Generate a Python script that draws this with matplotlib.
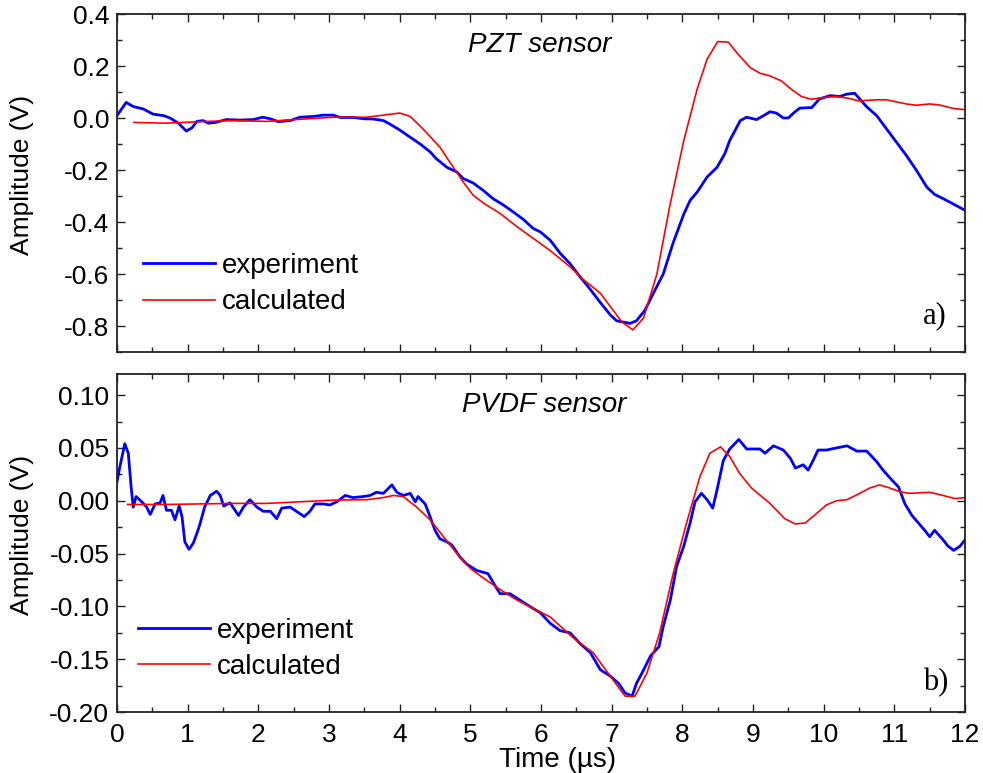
import matplotlib
matplotlib.use("Agg")
import matplotlib.pyplot as plt
from matplotlib.ticker import MultipleLocator
import numpy as np

plt.rcParams['font.family'] = ['Liberation Sans', 'DejaVu Sans']

# ---- Panel a) PZT sensor ----
pzt_exp_t = [0.0, 0.13, 0.23, 0.37, 0.51, 0.66, 0.75, 0.87, 0.98, 1.06, 1.13, 1.22, 1.29, 1.39, 1.55, 1.74,
             1.93, 2.06, 2.17, 2.28, 2.45, 2.59, 2.78, 2.92, 3.06, 3.16, 3.35, 3.49, 3.63, 3.77, 3.86, 4.0,
             4.15, 4.29, 4.43, 4.52, 4.67, 4.81, 4.9, 5.04, 5.18, 5.32, 5.47, 5.6, 5.75, 5.89, 5.99, 6.13,
             6.27, 6.41, 6.55, 6.7, 6.84, 6.98, 7.07, 7.26, 7.35, 7.47, 7.59, 7.73, 7.87, 8.02, 8.11, 8.21,
             8.35, 8.49, 8.6, 8.67, 8.82, 8.91, 9.05, 9.15, 9.24, 9.33, 9.43, 9.5, 9.57, 9.66, 9.83, 9.94,
             10.09, 10.23, 10.33, 10.44, 10.51, 10.61, 10.75, 10.89, 11.03, 11.17, 11.31, 11.46, 11.57,
             11.69, 11.83, 12.0]
pzt_exp_v = [0.009, 0.06, 0.044, 0.035, 0.015, 0.009, 0.0, -0.02, -0.05, -0.038, -0.013, -0.01, -0.02, -0.017,
             -0.006, -0.008, -0.006, 0.003, -0.003, -0.014, -0.01, 0.003, 0.006, 0.011, 0.011, 0.002, 0.002,
             -0.003, -0.004, -0.01, -0.023, -0.046, -0.074, -0.1, -0.13, -0.157, -0.19, -0.208, -0.233, -0.25,
             -0.278, -0.31, -0.335, -0.36, -0.39, -0.425, -0.438, -0.47, -0.52, -0.56, -0.61, -0.66, -0.71,
             -0.757, -0.78, -0.79, -0.78, -0.74, -0.674, -0.6, -0.48, -0.37, -0.317, -0.285, -0.227, -0.19,
             -0.138, -0.087, -0.01, 0.003, -0.006, 0.009, 0.024, 0.019, 0.0, 0.0, 0.018, 0.038, 0.04, 0.073,
             0.086, 0.083, 0.092, 0.095, 0.073, 0.043, 0.009, -0.042, -0.093, -0.144, -0.2, -0.266, -0.294,
             -0.31, -0.33, -0.355]

pzt_calc_t = [0.24, 0.7, 1.17, 1.65, 2.12, 2.59, 3.06, 3.53, 3.77, 4.0, 4.15, 4.33, 4.57, 4.71, 4.9, 5.04,
              5.2, 5.42, 5.66, 5.89, 6.13, 6.41, 6.58, 6.84, 7.0, 7.14, 7.3, 7.45, 7.64, 7.82, 8.02, 8.21,
              8.35, 8.5, 8.65, 8.79, 8.96, 9.1, 9.24, 9.4, 9.54, 9.69, 9.83, 9.99, 10.18, 10.37, 10.49,
              10.75, 10.89, 11.17, 11.31, 11.5, 11.64, 11.83, 12.0]
pzt_calc_v = [-0.017, -0.02, -0.014, -0.01, -0.013, -0.005, 0.003, 0.003, 0.011, 0.019, 0.006, -0.042,
              -0.112, -0.17, -0.246, -0.297, -0.33, -0.367, -0.418, -0.463, -0.51, -0.572, -0.617, -0.674,
              -0.732, -0.783, -0.815, -0.77, -0.6, -0.342, -0.087, 0.111, 0.226, 0.294, 0.292, 0.245, 0.194,
              0.172, 0.162, 0.143, 0.111, 0.082, 0.072, 0.079, 0.083, 0.075, 0.066, 0.07, 0.07, 0.054,
              0.049, 0.054, 0.05, 0.037, 0.032]

# ---- Panel b) PVDF sensor ----
pvdf_exp_t = [0.0, 0.04, 0.11, 0.16, 0.2, 0.23, 0.27, 0.35, 0.42, 0.47, 0.54, 0.61, 0.65, 0.7, 0.77, 0.82,
              0.88, 0.92, 0.96, 1.02, 1.08, 1.13, 1.17, 1.24, 1.32, 1.41, 1.46, 1.51, 1.6, 1.72, 1.79, 1.88,
              1.98, 2.07, 2.17, 2.26, 2.33, 2.45, 2.54, 2.65, 2.73, 2.8, 2.92, 3.01, 3.11, 3.23, 3.34, 3.49,
              3.58, 3.67, 3.77, 3.89, 3.96, 4.05, 4.15, 4.22, 4.26, 4.36, 4.43, 4.5, 4.57, 4.67, 4.74, 4.85,
              4.95, 5.09, 5.25, 5.32, 5.42, 5.56, 5.7, 5.84, 5.99, 6.13, 6.27, 6.41, 6.55, 6.7, 6.77, 6.84,
              6.98, 7.1, 7.19, 7.29, 7.35, 7.43, 7.55, 7.67, 7.73, 7.83, 7.92, 8.02, 8.11, 8.18, 8.27, 8.35,
              8.43, 8.49, 8.58, 8.67, 8.8, 8.91, 9.1, 9.17, 9.29, 9.43, 9.53, 9.6, 9.71, 9.78, 9.85, 9.92,
              10.04, 10.18, 10.33, 10.47, 10.61, 10.75, 10.84, 10.96, 11.06, 11.15, 11.25, 11.34, 11.43,
              11.5, 11.57, 11.69, 11.76, 11.84, 11.93, 12.0]
pvdf_exp_v = [0.018, 0.032, 0.054, 0.045, 0.013, -0.006, 0.004, -0.001, -0.006, -0.013, -0.003, -0.002,
              0.005, -0.009, -0.009, -0.018, -0.005, -0.015, -0.039, -0.046, -0.04, -0.031, -0.023, -0.006,
              0.005, 0.009, 0.005, -0.005, -0.002, -0.014, -0.006, 0.001, -0.006, -0.01, -0.01, -0.017,
              -0.007, -0.006, -0.01, -0.015, -0.01, -0.003, -0.003, -0.004, -0.001, 0.005, 0.003, 0.004,
              0.005, 0.008, 0.007, 0.015, 0.008, 0.005, 0.007, -0.001, 0.004, -0.003, -0.015, -0.028, -0.036,
              -0.039, -0.042, -0.053, -0.06, -0.066, -0.069, -0.077, -0.088, -0.088, -0.094, -0.1, -0.106,
              -0.116, -0.123, -0.125, -0.135, -0.144, -0.152, -0.16, -0.166, -0.173, -0.182, -0.185, -0.173,
              -0.163, -0.147, -0.138, -0.119, -0.094, -0.062, -0.043, -0.021, -0.001, 0.007, 0.001, -0.007,
              0.01, 0.038, 0.049, 0.058, 0.049, 0.049, 0.045, 0.052, 0.048, 0.04, 0.031, 0.034, 0.029, 0.038,
              0.048, 0.048, 0.05, 0.052, 0.047, 0.047, 0.037, 0.029, 0.02, 0.013, -0.003, -0.014, -0.021,
              -0.028, -0.034, -0.028, -0.037, -0.043, -0.047, -0.043, -0.037]

pvdf_calc_t = [0.15, 0.7, 1.17, 1.65, 2.12, 2.59, 3.06, 3.53, 3.77, 3.91, 4.05, 4.24, 4.43, 4.62, 4.81,
               5.0, 5.18, 5.42, 5.66, 5.89, 6.13, 6.46, 6.74, 6.98, 7.19, 7.33, 7.5, 7.68, 7.87, 8.06, 8.25,
               8.39, 8.54, 8.67, 8.81, 8.98, 9.24, 9.45, 9.6, 9.74, 9.9, 10.04, 10.18, 10.33, 10.51, 10.65,
               10.79, 10.94, 11.08, 11.22, 11.5, 11.69, 11.86, 12.0]
pvdf_calc_v = [-0.0035, -0.0035, -0.003, -0.0025, -0.0025, -0.001, 0.0006, 0.001, 0.003, 0.005, 0.004,
               -0.006, -0.018, -0.034, -0.05, -0.064, -0.073, -0.084, -0.094, -0.102, -0.11, -0.13, -0.144,
               -0.166, -0.185, -0.185, -0.163, -0.125, -0.069, -0.021, 0.023, 0.045, 0.051, 0.042, 0.026,
               0.012, -0.0025, -0.017, -0.022, -0.021, -0.012, -0.004, 0.0, 0.001, 0.007, 0.012, 0.015,
               0.012, 0.0085, 0.007, 0.008, 0.005, 0.002, 0.003]

top_yticks = [0.4, 0.2, 0.0, -0.2, -0.4, -0.6, -0.8]
top_yticklabels = ['0.4', '0.2', '0.0', '-0.2', '-0.4', '-0.6', '-0.8']
bot_yticks = [0.10, 0.05, 0.0, -0.05, -0.10, -0.15, -0.20]
bot_yticklabels = ['0.10', '0.05', '0.00', '-0.05', '-0.10', '-0.15', '-0.20']
xticks = list(range(0, 13))

W, H = 983, 773
fig = plt.figure(figsize=(W / 100, H / 100), dpi=100)


def axes_px(l, t, r, b):
    return fig.add_axes([l / W, 1 - b / H, (r - l) / W, (b - t) / H])


ax1 = axes_px(117, 14, 965, 352)
ax2 = axes_px(117, 374, 965, 712)

BLUE = '#0000ff'
RED = '#ff0000'

ax1.plot(pzt_exp_t, pzt_exp_v, color=BLUE, lw=2.0, label='experiment')
ax1.plot(pzt_calc_t, pzt_calc_v, color=RED, lw=1.2, label='calculated')
ax2.plot(pvdf_exp_t, pvdf_exp_v, color=BLUE, lw=2.0, label='experiment')
ax2.plot(pvdf_calc_t, pvdf_calc_v, color=RED, lw=1.2, label='calculated')

ax1.set_ylim(-0.9, 0.4)
ax2.set_ylim(-0.2, 0.12)
ax1.set_yticks(top_yticks)
ax1.set_yticklabels(top_yticklabels)
ax2.set_yticks(bot_yticks)
ax2.set_yticklabels(bot_yticklabels)
ax1.yaxis.set_minor_locator(MultipleLocator(0.1))
ax2.yaxis.set_minor_locator(MultipleLocator(0.025))

for ax in (ax1, ax2):
    ax.set_xlim(0, 12)
    ax.set_xticks(xticks)
    ax.xaxis.set_minor_locator(MultipleLocator(0.5))
    ax.tick_params(which='both', direction='in', top=True, right=True, width=1.0, colors='#222222',
                   labelcolor='black')
    ax.tick_params(which='major', length=6, labelsize=19)
    ax.tick_params(axis='y', which='major', pad=5.5)
    ax.tick_params(axis='x', which='major', pad=8)
    ax.tick_params(which='minor', length=3.5)
    for s in ax.spines.values():
        s.set_linewidth(1.3)
        s.set_color('#222222')
    ax.set_ylabel('Amplitude (V)', fontsize=19)

ax1.tick_params(axis='x', labelbottom=False)
ax1.yaxis.set_label_coords(-0.098, 0.525)
ax2.yaxis.set_label_coords(-0.098, 0.525)

fig.text(558 / W, 1 - 760 / H, 'Time (µs)', fontsize=20, ha='center', va='center')

ax1.text(0.499, 0.888, 'PZT sensor', transform=ax1.transAxes, fontsize=20, style='italic',
         ha='center', va='baseline')
ax2.text(0.5035, 0.888, 'PVDF sensor', transform=ax2.transAxes, fontsize=20, style='italic',
         ha='center', va='baseline')
ax1.text(0.950, 0.086, 'a)', transform=ax1.transAxes, fontsize=22, family='Liberation Serif',
         ha='left', va='baseline')
ax2.text(0.950, 0.065, 'b)', transform=ax2.transAxes, fontsize=22, family='Liberation Serif',
         ha='left', va='baseline')

ax1.legend(loc='upper left', bbox_to_anchor=(0.0307, 0.293), frameon=False, fontsize=20,
           handlelength=2.6, handletextpad=0.25, labelspacing=0.37, borderpad=0, borderaxespad=0)
ax2.legend(loc='upper left', bbox_to_anchor=(0.0248, 0.279), frameon=False, fontsize=20,
           handlelength=2.6, handletextpad=0.25, labelspacing=0.37, borderpad=0, borderaxespad=0)

fig.savefig('out.png', dpi=100)
